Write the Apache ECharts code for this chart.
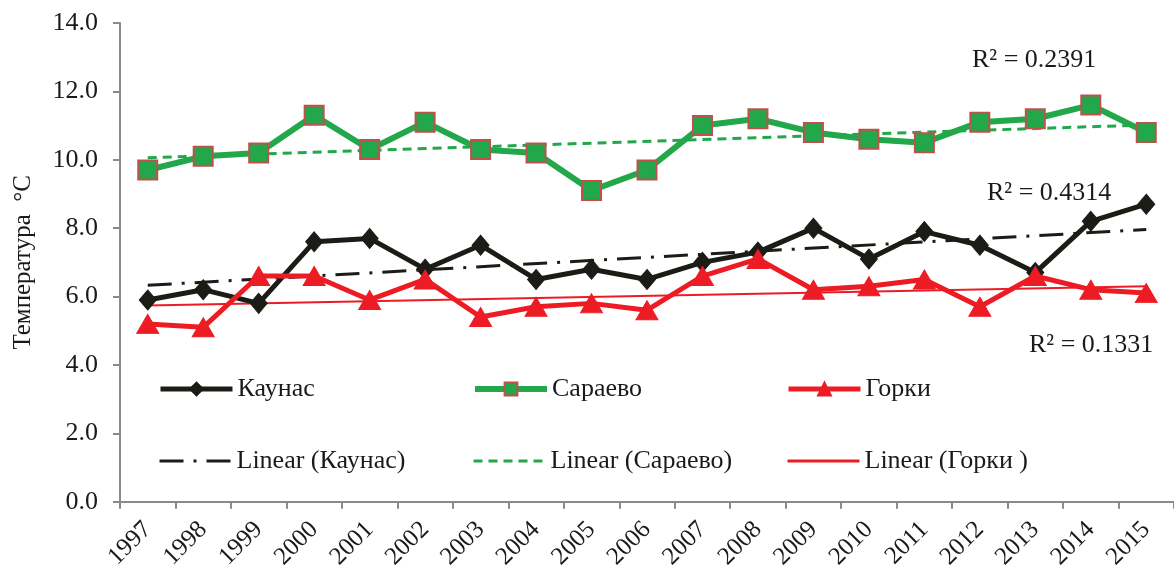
<!DOCTYPE html>
<html>
<head>
<meta charset="utf-8">
<script src="https://cdn.jsdelivr.net/npm/echarts@6/dist/echarts.min.js"></script>
<style>html,body{margin:0;padding:0;background:#fff}#c{width:1174px;height:572px}</style>
</head>
<body>
<div id="c"></div>
<script>
const years = ['1997','1998','1999','2000','2001','2002','2003','2004','2005','2006','2007','2008','2009','2010','2011','2012','2013','2014','2015'];
const kaunas = [5.9,6.2,5.8,7.6,7.7,6.8,7.5,6.5,6.8,6.5,7.0,7.3,8.0,7.1,7.9,7.5,6.7,8.2,8.7];
const sarajevo = [9.7,10.1,10.2,11.3,10.3,11.1,10.3,10.2,9.1,9.7,11.0,11.2,10.8,10.6,10.5,11.1,11.2,11.6,10.8];
const gorki = [5.2,5.1,6.6,6.6,5.9,6.5,5.4,5.7,5.8,5.6,6.6,7.1,6.2,6.3,6.5,5.7,6.6,6.2,6.1];
// trendline end values (1997, 2015)
const trendKaunas = [6.33, 7.96];
const trendSarajevo = [10.06, 11.02];
const trendGorki = [5.74, 6.30];
const yTicks = ['0.0','2.0','4.0','6.0','8.0','10.0','12.0','14.0'];
const r2Labels = ['R² = 0.2391','R² = 0.4314','R² = 0.1331'];

const FONT = '"Liberation Serif", "Times New Roman", serif';
const AX = '#8a8a8a';
const TXT = '#1a1a1a';
const BLACK = '#1c1c17', GREEN = '#22a84b', RED = '#ed1c24';

function trend(v){ return [[0, v[0]], [years.length-1, v[1]]]; }

const chart = echarts.init(document.getElementById('c'), null, {renderer:'canvas'});
function lg(name, left, top, lw, hideSymbol){
  const o = {orient:'horizontal', padding:0, itemWidth:72, itemHeight:16, itemGap:0,
    textStyle:{fontFamily:FONT, fontSize:26, color:TXT},
    data:[name], left:left, top:top, lineStyle:{width:lw}};
  if (hideSymbol) o.itemStyle = {opacity:0};
  return o;
}

chart.setOption({
  animation:false,
  backgroundColor:'#fff',
  grid:{left:120, top:23, width:1068, height:480, containLabel:false},
  legend:[
    lg('Каунас',158,376,5,false), lg('Сараево',472,376,6,false), lg('Горки',786,376,5,false),
    lg('Linear (Каунас)',158,448,3,true), lg('Linear (Сараево)',472,448,3,true), lg('Linear (Горки )',786,448,3,true)
  ],
  xAxis:{type:'category', data:years, boundaryGap:true,
    axisLine:{lineStyle:{color:AX, width:2}},
    axisTick:{show:true, length:7, lineStyle:{color:AX, width:2}},
    axisLabel:{rotate:45, margin:24, fontFamily:FONT, fontSize:25, color:TXT, interval:0}
  },
  yAxis:{type:'value', min:0, max:14, interval:2,
    name:'Температура  °C', nameLocation:'middle', nameGap:84, nameRotate:90,
    nameTextStyle:{fontFamily:FONT, fontSize:25, color:TXT},
    axisLine:{show:true, lineStyle:{color:AX, width:2}},
    axisTick:{show:true, length:7, lineStyle:{color:AX, width:2}},
    splitLine:{show:false},
    axisLabel:{margin:22, fontFamily:FONT, fontSize:26, color:TXT,
      formatter:function(v){ return yTicks[Math.round(v/2)]; }}
  },
  series:[
    {name:'Linear (Каунас)', type:'line', data:trend(trendKaunas), symbol:'none', z:1,
      lineStyle:{color:BLACK, width:3, type:[24,10,3,10]}, itemStyle:{color:BLACK}},
    {name:'Linear (Сараево)', type:'line', data:trend(trendSarajevo), symbol:'none', z:1,
      lineStyle:{color:GREEN, width:3, type:[9,6]}, itemStyle:{color:GREEN}},
    {name:'Linear (Горки )', type:'line', data:trend(trendGorki), symbol:'none', z:1,
      lineStyle:{color:RED, width:2, type:'solid'}, itemStyle:{color:RED}},
    {name:'Каунас', type:'line', data:kaunas, symbol:'diamond', symbolSize:[17,20], z:3,
      lineStyle:{color:BLACK, width:5}, itemStyle:{color:BLACK, borderColor:BLACK, borderWidth:1}},
    {name:'Сараево', type:'line', data:sarajevo, symbol:'rect', symbolSize:19, z:3,
      lineStyle:{color:GREEN, width:6}, itemStyle:{color:GREEN, borderColor:'#c0504d', borderWidth:2}},
    {name:'Горки', type:'line', data:gorki, symbol:'triangle', symbolSize:[22,19], z:4,
      lineStyle:{color:RED, width:5}, itemStyle:{color:RED, borderColor:RED, borderWidth:1}}
  ],
  graphic:[
    {type:'text', x:972, y:60, z:10, style:{text:r2Labels[0], font:'26px '+FONT, fill:TXT, verticalAlign:'middle', align:'left'}},
    {type:'text', x:987, y:193, z:10, style:{text:r2Labels[1], font:'26px '+FONT, fill:TXT, verticalAlign:'middle', align:'left'}},
    {type:'text', x:1029, y:345, z:10, style:{text:r2Labels[2], font:'26px '+FONT, fill:TXT, verticalAlign:'middle', align:'left'}}
  ]
});
</script>
</body>
</html>
